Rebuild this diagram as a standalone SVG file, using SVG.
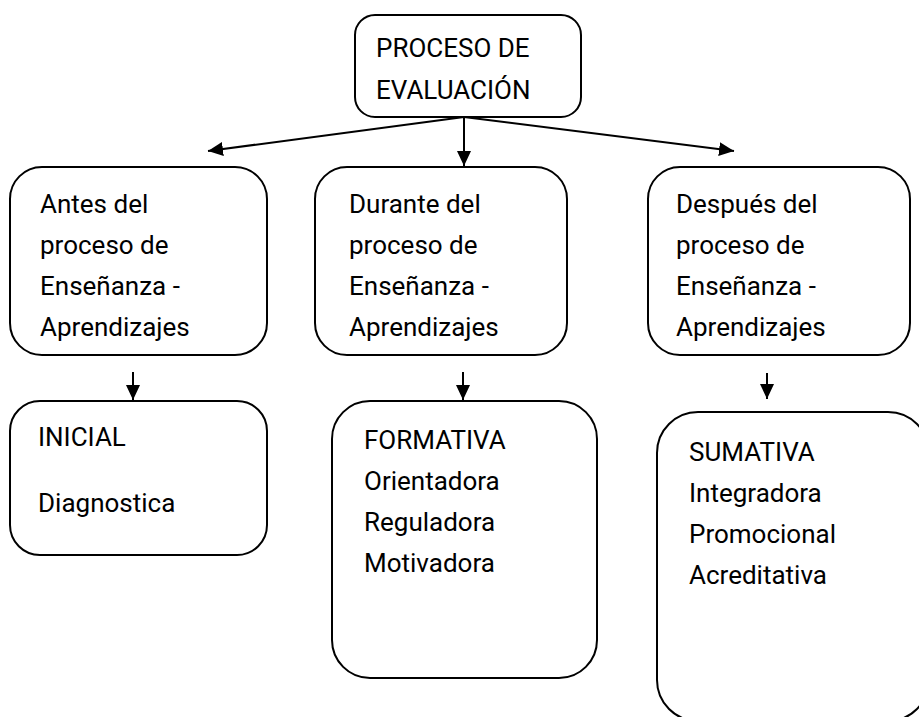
<svg xmlns="http://www.w3.org/2000/svg" width="919" height="717" viewBox="0 0 919 717">
<defs>
<marker id="a2" viewBox="0 0 15 14" refX="15" refY="7" markerWidth="15" markerHeight="14" markerUnits="userSpaceOnUse" orient="auto">
<path d="M0,0 L15,7 L0,14 Z" fill="#000"/>
</marker>
<style>
.box{fill:#fff;stroke:#000;stroke-width:2}
.t{font-family:Roboto,"Open Sans","Liberation Sans",sans-serif;font-size:26px;fill:#000}
.c{stroke:#000;stroke-width:2;fill:none;marker-end:url(#a2)}
</style>
</defs>
<rect width="919" height="717" fill="#fff"/>
<g id="connectors">
<line class="c" x1="464" y1="117" x2="208" y2="151"/>
<line class="c" x1="464" y1="117" x2="464" y2="166"/>
<line class="c" x1="464" y1="117" x2="734" y2="151"/>
<line class="c" x1="133" y1="372" x2="133" y2="400"/>
<line class="c" x1="463" y1="372" x2="463" y2="400"/>
<line class="c" x1="767" y1="373" x2="767" y2="399"/>
</g>
<g id="n-proceso">
<rect class="box" x="355" y="15" width="226" height="102" rx="20"/>
<text class="t" x="376" y="57">PROCESO DE</text>
<text class="t" x="376" y="99">EVALUACIÓN</text>
</g>
<g id="n-antes">
<rect class="box" x="10" y="167" width="257" height="188" rx="32"/>
<text class="t" x="40" y="213">Antes del</text>
<text class="t" x="40" y="254">proceso de</text>
<text class="t" x="40" y="295">Enseñanza -</text>
<text class="t" x="40" y="336">Aprendizajes</text>
</g>
<g id="n-durante">
<rect class="box" x="315" y="167" width="252" height="188" rx="32"/>
<text class="t" x="349" y="213">Durante del</text>
<text class="t" x="349" y="254">proceso de</text>
<text class="t" x="349" y="295">Enseñanza -</text>
<text class="t" x="349" y="336">Aprendizajes</text>
</g>
<g id="n-despues">
<rect class="box" x="648" y="167" width="262" height="188" rx="32"/>
<text class="t" x="676" y="213">Después del</text>
<text class="t" x="676" y="254">proceso de</text>
<text class="t" x="676" y="295">Enseñanza -</text>
<text class="t" x="676" y="336">Aprendizajes</text>
</g>
<g id="n-inicial">
<rect class="box" x="10" y="401" width="257" height="154" rx="30"/>
<text class="t" x="38" y="446">INICIAL</text>
<text class="t" x="38" y="512">Diagnostica</text>
</g>
<g id="n-formativa">
<rect class="box" x="332" y="401" width="265" height="277" rx="38"/>
<text class="t" x="364" y="449">FORMATIVA</text>
<text class="t" x="364" y="490">Orientadora</text>
<text class="t" x="364" y="531">Reguladora</text>
<text class="t" x="364" y="572">Motivadora</text>
</g>
<g id="n-sumativa">
<rect class="box" x="657" y="412" width="272" height="309" rx="41"/>
<text class="t" x="689" y="461">SUMATIVA</text>
<text class="t" x="689" y="502">Integradora</text>
<text class="t" x="689" y="543">Promocional</text>
<text class="t" x="689" y="584">Acreditativa</text>
</g>
</svg>
